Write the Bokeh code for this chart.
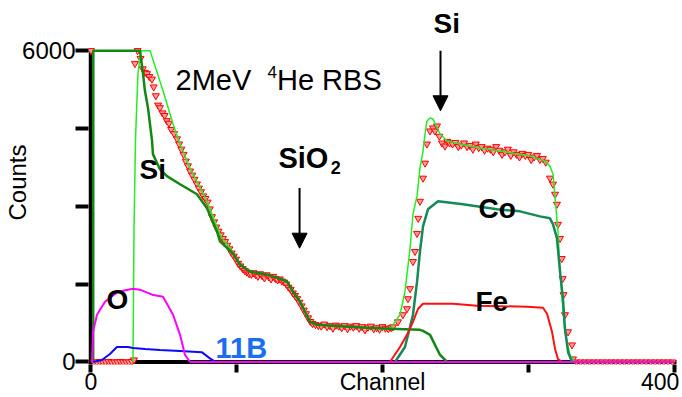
from bokeh.plotting import figure
from bokeh.models import Range1d, FixedTicker, Label, Arrow, NormalHead, LinearAxis
from bokeh.embed import file_html
from bokeh.resources import INLINE

# ---------------- data (channel, counts) ----------------
# measured spectrum (red triangles)
meas_ch = [0, 2, 4, 6, 8, 10, 12, 14, 16, 18, 20, 22, 24, 26, 28, 29.5, 30.2, 32,
           34, 35.5, 37, 38.4, 40, 41.8, 43, 44.5, 46, 47.3, 49, 50.5, 52, 53.5, 55, 57, 59, 60.5,
           62, 63.5, 65, 66.5, 68, 69.5, 71, 72.7, 74, 75.5, 77, 78.5, 80, 81.5, 83, 84.5, 86, 87.5, 89,
           90.5, 92, 93.5, 95, 96.5, 98, 99.5, 101, 102.5, 104, 105.5, 107, 108.5, 110, 111.5, 113,
           114.5, 116, 117.5, 119, 120.5, 122, 123.5, 125, 126.5, 128, 129.5, 131, 132.5, 134, 135.5,
           137, 138.5, 140, 141.5, 143, 144.5, 146, 147.5, 149, 150.5, 152,
           154, 156, 158, 160, 162, 164, 166, 168, 170, 172, 174, 176, 178, 180, 182, 184, 186, 188,
           190, 192, 194, 196, 198, 200, 202, 204, 206,
           207.2, 210.6, 214, 216.8, 217.5, 218.9, 220.9, 222.3, 223.7, 224.5, 225.7, 227.8, 229.2,
           230.5, 232.6, 234.6, 236, 237.4, 239, 240.8, 242.9, 244.5,
           246, 248, 250, 252, 254, 256, 258, 260, 262, 264, 266, 268, 270, 272, 274, 276, 278, 280,
           282, 284, 286, 288, 290, 292, 294, 296, 298, 300, 302, 304, 306, 308, 310,
           312, 314.9, 317, 318.4, 319.7, 320.4, 321.8, 323, 323.6, 324.2, 325.2, 327.3, 330, 330.7,
           333, 336, 339, 342, 345, 348, 351, 354, 357, 360, 363, 366, 369, 372, 375, 378, 381, 384,
           387, 390, 393, 396, 399]
meas_ct = [6000, 0, 0, 10, 0, 0, 10, 0, 0, 0, 10, 0, 0, 0, 10, 40, 5750, 6000,
           5850, 5650, 5580, 5555, 5500, 5450, 5300, 5130, 4950, 4900, 4800, 4750, 4650, 4600, 4480, 4400, 4300, 4200,
           4100, 4000, 3870, 3780, 3680, 3600, 3520, 3430, 3350, 3280, 3200, 3150, 3080, 2950, 2800, 2700, 2600, 2520, 2450,
           2380, 2320, 2250, 2180, 2100, 2040, 1980, 1900, 1850, 1800, 1760, 1730, 1700, 1690, 1720, 1680,
           1650, 1700, 1660, 1620, 1680, 1640, 1600, 1650, 1610, 1580, 1600, 1560, 1540, 1500, 1440,
           1400, 1330, 1280, 1220, 1150, 1080, 1000, 930, 850, 780, 740,
           720, 700, 690, 730, 680, 700, 650, 710, 690, 660, 700, 640, 690, 670, 700, 650, 680, 620,
           670, 690, 640, 660, 630, 680, 650, 640, 660,
           677, 774, 910, 1026, 1219, 1413, 1935, 2129, 2477, 2768, 3097, 3542, 3832,
           4200, 4452, 4510, 4450, 4548, 4350, 4219, 4161, 4250,
           4219, 4200, 4230, 4150, 4180, 4220, 4150, 4170, 4100, 4200, 4130, 4150, 4080, 4120, 4100, 4050, 4150, 4080,
           4000, 4050, 4100, 3980, 4050, 4000, 3950, 4020, 3980, 4000, 3900, 3950, 3980, 3900, 3920,
           3850, 3542, 3426, 3232, 3039, 2652, 2381, 1993, 1606, 1297, 910, 581, 329, 58,
           0, 0, 0, 0, 0, 0, 0, 0, 0, 0, 0, 0, 0, 0, 0, 0, 0, 0,
           0, 0, 0, 0, 0]

# simulated total (light green)
tot_ch = [28.8, 29.5, 30.5, 32.2, 34.3, 40.5, 42, 49.4, 56.3, 61.1, 67.9, 79.6, 88.5, 97.4,
          102.2, 109.1, 120.8, 129.7, 134.5, 138.6, 143.4, 146.8, 150.3, 155.1, 166, 189.4, 205.1,
          207.2, 212, 215.4, 218.9, 220.9, 223.7, 225.7, 227.8, 229.2, 230.5, 232.6, 234.6, 237.4,
          239.5, 244.3, 253.2, 266.9, 280.6, 301.2, 311.5, 314.9, 317, 318.4, 320.4, 321.8, 323.2,
          325.2, 328.6, 332.1, 400]
tot_ct = [0, 2516, 4258, 5555, 6000, 6000, 5870, 5226, 4587, 4200, 3735, 3097, 2450, 2110,
          1877, 1742, 1684, 1606, 1548, 1355, 1161, 968, 774, 716, 697, 658, 639,
          716, 910, 1355, 2187, 2845, 3200, 3735, 4065, 4394, 4645, 4703, 4684, 4510,
          4394, 4258, 4200, 4123, 4065, 3968, 3871, 3774, 3619, 3155, 2516, 1742, 1219,
          581, 135, 0, 0]

# Si (dark green)
si_ch = [1.5, 1.6, 33.6, 35.7, 37, 39.1, 41.9, 42.5, 47.3, 52.1, 61.1, 72.7, 79.6, 86.4, 88.5,
         97.4, 102.2, 109.1, 120.8, 129.7, 134.5, 138.6, 143.4, 146.8, 150.3, 155.1, 166, 189.4,
         205.1, 225.7, 227.8, 232.6, 236, 239.5, 244.3, 400]
si_ct = [0, 6000, 6000, 5555, 5226, 4897, 4258, 4006, 3716, 3581, 3426, 3232, 2961, 2516, 2323,
         2090, 1877, 1742, 1684, 1606, 1548, 1355, 1161, 968, 774, 716, 697, 658,
         639, 619, 600, 523, 329, 135, 0, 0]

# Co (teal green)
co_ch = [208.6, 215.4, 218.9, 220.9, 223.7, 225.7, 227.8, 231.2, 238.1, 255.2, 278.6, 294.3,
         308, 314.9, 317, 319.7, 321.8, 323.8, 325.2, 327.3, 330]
co_ct = [0, 290, 677, 910, 1548, 2129, 2613, 2942, 3097, 3039, 2942, 2903,
         2806, 2768, 2652, 2381, 1742, 1219, 639, 194, 0]

# Fe (red)
fe_ch = [205.1, 212, 216.8, 220.9, 224.4, 227.8, 248.4, 264.8, 299.1, 310.1, 312.9, 316.3,
         318.4, 320.4, 323.2, 400]
fe_ct = [0, 290, 523, 774, 1026, 1122, 1122, 1084, 1065, 1045, 929, 581,
         252, 58, 0, 0]

# O (magenta)
o_ch = [0.7, 1.4, 4.1, 9.6, 18.5, 28.8, 33.6, 41.9, 49.4, 56.3, 61.1, 64.5, 68, 400]
o_ct = [0, 581, 910, 1161, 1355, 1413, 1394, 1297, 1258, 910, 523, 135, 0, 0]

# 11B (blue)
b_ch = [1.4, 7.5, 13, 17.8, 25.4, 28.8, 37, 47.3, 61.1, 76, 81.6, 85.5, 400]
b_ct = [0, 39, 155, 290, 290, 271, 252, 232, 213, 190, 70, 0, 0]

x_ticks = [0, 100, 200, 300, 400]
x_label_pos = [0, 200, 390.5]
x_labels = {0: "0", 200: "Channel", 390.5: "400"}
y_ticks = [0, 1500, 3000, 4500, 6000]
y_tick_labels = {0: "0", 1500: "", 3000: "", 4500: "", 6000: "6000"}

FONT = "Liberation Sans"

p = figure(width=682, height=397, output_backend="svg", toolbar_location=None,
           x_range=Range1d(-1.715, 405.83), y_range=Range1d(-48.3, 6966),
           min_border_left=88, min_border_right=0, min_border_top=0, min_border_bottom=0)
p.outline_line_color = None
p.xgrid.visible = False
p.ygrid.visible = False
p.background_fill_color = "white"
p.border_fill_color = "white"

for ax in (p.xaxis[0], p.yaxis[0]):
    ax.axis_line_color = None
    ax.major_tick_line_color = "black"
    ax.major_tick_line_width = 4
    ax.major_tick_in = 0
    ax.minor_tick_line_color = None

# x axis: tick marks only
xa = p.xaxis[0]
xa.ticker = FixedTicker(ticks=x_ticks)
xa.major_tick_out = 8
xa.major_label_overrides = {t: "" for t in x_ticks}
xa.major_label_text_font_size = "0px"
xa.major_label_standoff = 0

# second x axis carrying the texts of the bottom row
xb = LinearAxis(ticker=FixedTicker(ticks=x_label_pos), major_label_overrides=x_labels,
                axis_line_color=None, major_tick_line_color=None, minor_tick_line_color=None,
                major_tick_in=0, major_tick_out=0, major_label_standoff=-4,
                major_label_text_font=FONT, major_label_text_font_size="23px",
                major_label_text_color="black")
p.add_layout(xb, "below")

ya = p.yaxis[0]
ya.ticker = FixedTicker(ticks=y_ticks)
ya.major_tick_out = 13
ya.major_label_overrides = y_tick_labels
ya.major_label_text_font = FONT
ya.major_label_text_font_size = "24px"
ya.major_label_text_color = "black"
ya.major_label_standoff = 0
ya.axis_label = "Counts"
ya.axis_label_text_font = FONT
ya.axis_label_text_font_size = "24px"
ya.axis_label_text_font_style = "normal"
ya.axis_label_text_color = "black"
ya.axis_label_standoff = -12

# axis lines drawn beneath the data
p.line([-0.34, -0.34], [-48, 6000], line_color="black", line_width=4)
p.line([-1.7, 401.7], [0, 0], line_color="black", line_width=4)

# measured points
p.scatter(meas_ch, meas_ct, marker="inverted_triangle", size=7,
          line_color="#ff0000", fill_color="#ff9a9a", line_width=1)

p.line(tot_ch, tot_ct, line_color="#22ee22", line_width=1.5)
p.line(si_ch, si_ct, line_color="#118811", line_width=2.5)
p.line(co_ch, co_ct, line_color="#138a58", line_width=2.5)
p.line(fe_ch, fe_ct, line_color="#ff1010", line_width=2)
p.line(b_ch, b_ct, line_color="#0a0aff", line_width=2)
p.line(o_ch, o_ct, line_color="#ff00ff", line_width=2)


def lab(text, x, y, size, bold=False, color="black"):
    p.add_layout(Label(x=x, y=y, text=text, text_font=FONT, text_font_size=f"{size}px",
                       text_font_style="bold" if bold else "normal", text_color=color,
                       text_align="left", text_baseline="alphabetic"))


# title
lab("2MeV", 58.0, 5438, 29)
lab("4", 121.1, 5590, 17)
lab("He RBS", 127.6, 5438, 29)

# element labels
lab("Si", 33.3, 3710, 28, bold=True)
lab("SiO", 128.6, 3930, 29, bold=True)
lab("2", 164.5, 3741, 18, bold=True)
lab("Si", 235.0, 6531, 28, bold=True)
lab("Co", 265.9, 2957, 28, bold=True)
lab("Fe", 263.8, 1159, 28, bold=True)
lab("O", 10.6, 1198, 28, bold=True)
lab("11B", 85.4, 271, 29, bold=True, color="#1a6ff0")

# arrows
p.add_layout(Arrow(x_start=239.8, y_start=6000, x_end=239.8, y_end=4841, line_width=2,
                   line_color="black",
                   end=NormalHead(size=15, fill_color="black", line_color="black")))
p.add_layout(Arrow(x_start=143.1, y_start=3353, x_end=143.1, y_end=2193, line_width=2,
                   line_color="black",
                   end=NormalHead(size=15, fill_color="black", line_color="black")))

open("out.html", "w").write(file_html(p, INLINE))
